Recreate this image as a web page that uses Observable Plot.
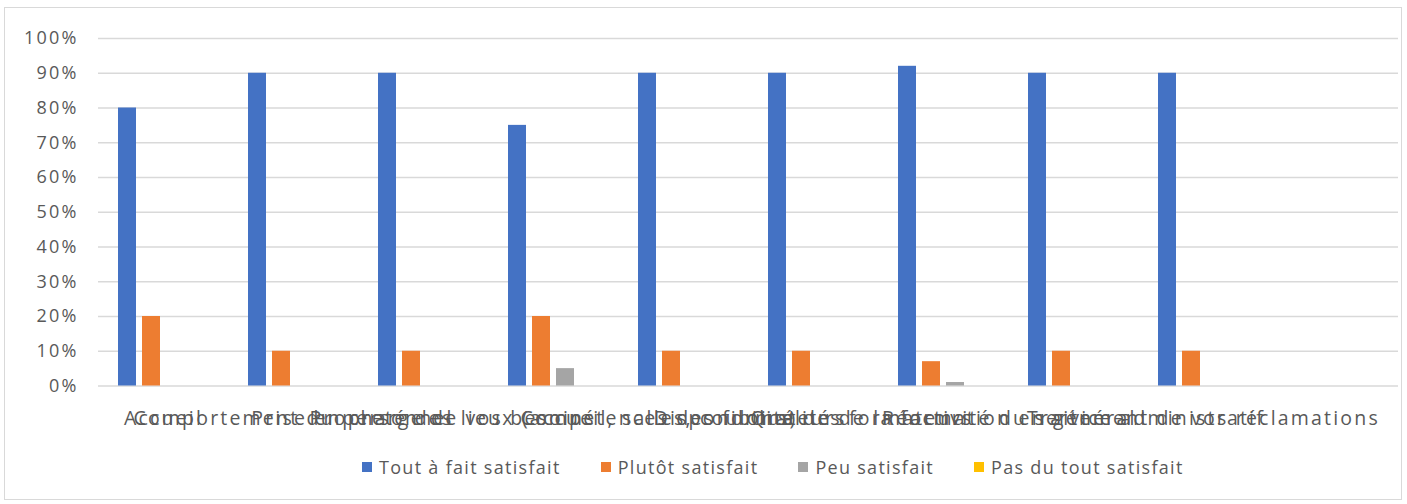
<!DOCTYPE html>
<html><head><meta charset="utf-8">
<script src="https://cdn.jsdelivr.net/npm/d3@7"></script>
<script src="https://cdn.jsdelivr.net/npm/@observablehq/plot@0.6"></script>
<style>
body{margin:0;background:#fff;width:1407px;height:504px;position:relative;overflow:hidden;font-family:"Open Sans",sans-serif;}
#frame{position:absolute;left:4px;top:7px;width:1398px;height:493px;border:1px solid #d9d9d9;box-sizing:border-box;pointer-events:none;}
#chart{position:absolute;left:0;top:0;}
#legend{position:absolute;top:455px;left:362px;display:flex;align-items:center;font-size:18px;letter-spacing:1.3px;color:#595959;white-space:nowrap;}
#legend .item{display:flex;align-items:center;margin-right:40px;}
#legend .sw{width:10px;height:10px;margin-right:7px;}
</style></head>
<body>
<div id="chart"></div>
<div id="legend"></div>
<div id="frame"></div>
<script>
const categories = [
  "Accueil",
  "Comportement du personnel",
  "Prise en charge de vos besoins",
  "Propreté des lieux (accueil, salles, couloirs)",
  "Compétences des formateurs",
  "Disponibilité des formateurs",
  "Qualité de la formation en général",
  "Réactivité du service administratif",
  "Traitement de vos réclamations",
  ""
];
const series = ["Tout à fait satisfait", "Plutôt satisfait", "Peu satisfait", "Pas du tout satisfait"];
const colors = ["#4472C4", "#ED7D31", "#A5A5A5", "#FFC000"];
const toutAFait = [0.80, 0.90, 0.90, 0.75, 0.90, 0.90, 0.92, 0.90, 0.90, null];
const plutot    = [0.20, 0.10, 0.10, 0.20, 0.10, 0.10, 0.07, 0.10, 0.10, null];
const peu       = [0, 0, 0, 0.05, 0, 0, 0.01, 0, 0, null];
const pasDuTout = [0, 0, 0, 0, 0, 0, 0, 0, 0, null];
const yTicks = [0, 0.1, 0.2, 0.3, 0.4, 0.5, 0.6, 0.7, 0.8, 0.9, 1.0];

const valueSets = [toutAFait, plutot, peu, pasDuTout];

const W = 1407, ML = 98, MR = 9;
const band = (W - ML - MR) / categories.length;
const inner = d3.scaleBand().domain(series).range([0, band]).paddingInner(0.25).paddingOuter(0.8333);

const barMarks = series.map((s, j) => {
  const rows = [];
  categories.forEach((c, i) => {
    const v = valueSets[j][i];
    if (v != null) rows.push({cat: c, value: v});
  });
  return Plot.barY(rows, {
    x: "cat", y: "value", fill: colors[j],
    insetLeft: inner(s), insetRight: band - inner(s) - inner.bandwidth()
  });
});

const chart = Plot.plot({
  width: W,
  height: 445,
  marginLeft: ML,
  marginRight: MR,
  marginTop: 38,
  marginBottom: 59.5,
  x: {domain: categories, padding: 0, tickSize: 0, tickPadding: 25, label: null},
  y: {domain: [0, 1], ticks: yTicks, tickFormat: d3.format(".0%"), tickSize: 0, tickPadding: 20, label: null},
  style: {fontFamily: "Open Sans", fontSize: "18px", color: "#595959", letterSpacing: "2.2px", background: "transparent"},
  marks: [
    Plot.ruleY(yTicks, {stroke: "#d9d9d9", strokeWidth: 1.3}),
    ...barMarks
  ]
});
d3.select(chart).selectAll('g[aria-label^="x-axis"] text')
  .style("font-size", "19.5px").style("letter-spacing", "2.2px");
document.getElementById("chart").appendChild(chart);

const legend = document.getElementById("legend");
series.forEach((s, j) => {
  const item = document.createElement("div");
  item.className = "item";
  const sw = document.createElement("div");
  sw.className = "sw";
  sw.style.background = colors[j];
  const t = document.createElement("span");
  t.textContent = s;
  item.appendChild(sw);
  item.appendChild(t);
  legend.appendChild(item);
});
</script>
</body></html>
